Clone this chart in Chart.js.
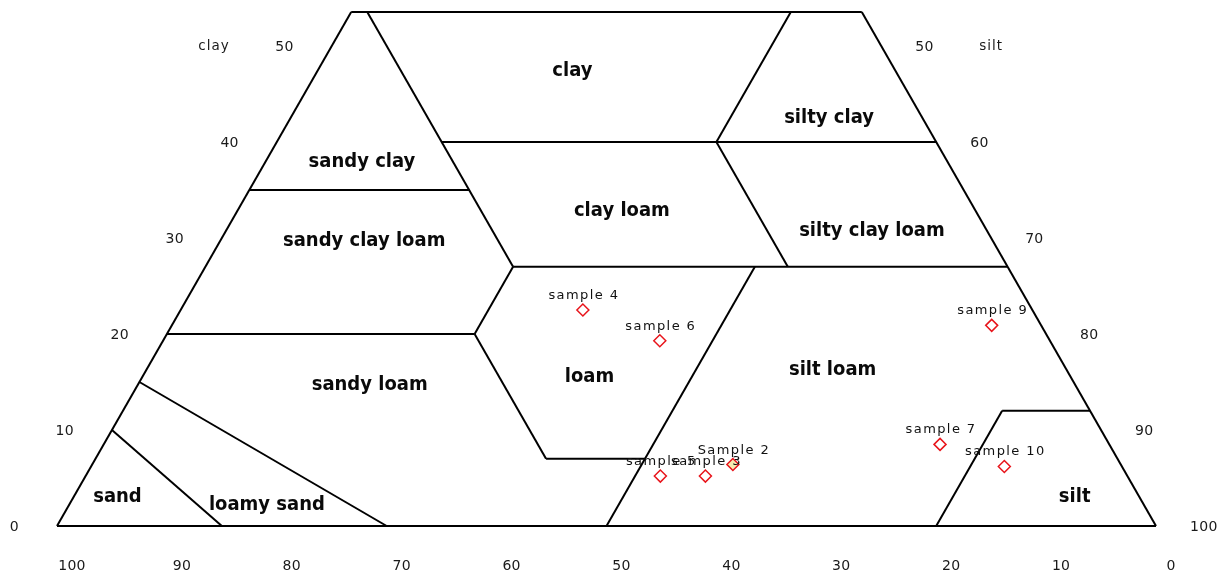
<!DOCTYPE html>
<html>
<head>
<meta charset="utf-8">
<script src="https://cdn.jsdelivr.net/npm/chart.js@4"></script>
<style>
  html, body { margin: 0; padding: 0; background: #ffffff; }
  canvas { display: block; }
</style>
</head>
<body>
<canvas id="soil" width="1224" height="574"></canvas>
<script>
// Highest clay percentage shown on the truncated texture triangle
const clayTop = 53.54;

// USDA texture class boundaries: each segment is [[sand, clay], [sand, clay]]
const outline = [
  [[100, 0], [100 - clayTop, clayTop]],
  [[100 - clayTop, clayTop], [0, clayTop]],
  [[0, clayTop], [0, 0]],
  [[0, 0], [100, 0]]
];
const classLines = [
  [[90, 10], [85, 0]],
  [[85, 15], [70, 0]],
  [[80, 20], [52, 20]],
  [[52, 20], [45, 27]],
  [[52, 20], [52, 7]],
  [[52, 7], [43, 7]],
  [[50, 0], [23, 27]],
  [[65, 35], [45, 35]],
  [[45, 27], [45, clayTop]],
  [[45, 27], [0, 27]],
  [[45, 40], [0, 40]],
  [[20, 27], [20, 40]],
  [[20, 40], [60 - clayTop, clayTop]],
  [[20, 0], [8, 12]],
  [[8, 12], [0, 12]]
];

// Texture class names and where each is written (sand %, clay %)
const classNames = ['clay', 'silty clay', 'sandy clay', 'clay loam', 'sandy clay loam',
  'silty clay loam', 'sandy loam', 'loam', 'silt loam', 'sand', 'loamy sand', 'silt'];
const classSand = [29.4, 8.5, 53.3, 32.2, 57.2, 10.5, 64.2, 43.8, 21.3, 93.0, 79.8, 5.9];
const classClay = [47.4, 42.5, 37.9, 32.8, 29.7, 30.7, 14.7, 15.5, 16.25, 3.0, 2.2, 3.0];

// Samples (sand %, clay %)
const sampleNames = ['sample 4', 'sample 6', 'sample 9', 'sample 7', 'sample 10', 'sample 5', 'sample 3', 'Sample 2'];
const sampleSand = [40.9, 35.5, 4.5, 15.4, 10.7, 42.5, 38.4, 35.3];
const sampleClay = [22.5, 19.3, 20.9, 8.5, 6.2, 5.2, 5.2, 6.4];

// Axis tick labels
const clayTicks = [0, 10, 20, 30, 40, 50];
const siltTicks = [50, 60, 70, 80, 90, 100];
const sandTicks = [100, 90, 80, 70, 60, 50, 40, 30, 20, 10, 0];

// Ternary (sand, clay) -> plane coordinates
function toXY(sand, clay) {
  return { x: 100 - sand - clay / 2, y: clay };
}

const lineStyle = {
  type: 'scatter', showLine: true, borderColor: '#000000', borderWidth: 2,
  pointRadius: 0, pointHoverRadius: 0, clip: false, fill: false
};

const datasets = [];
outline.concat(classLines).forEach(seg => {
  datasets.push(Object.assign({}, lineStyle, {
    data: seg.map(p => toXY(p[0], p[1]))
  }));
});

datasets.push({
  type: 'scatter',
  data: sampleSand.map((s, i) => toXY(s, sampleClay[i])),
  pointStyle: 'rectRot',
  pointRadius: 6,
  pointHoverRadius: 6,
  pointBorderWidth: 1.5,
  pointBorderColor: '#e8141b',
  pointBackgroundColor: sampleNames.map(n => n === 'Sample 2' ? '#f6ebb0' : '#ffffff'),
  clip: false
});

const textPlugin = {
  id: 'ternaryText',
  afterDatasetsDraw(chart) {
    const ctx = chart.ctx;
    const xs = chart.scales.x, ys = chart.scales.y;
    const px = (s, c) => xs.getPixelForValue(toXY(s, c).x);
    const py = (c) => ys.getPixelForValue(c);
    ctx.save();

    // class names (narrow bold face)
    ctx.fillStyle = '#0a0a0a';
    ctx.font = 'bold 20px "DejaVu Sans"';
    ctx.textAlign = 'center';
    ctx.textBaseline = 'middle';
    classNames.forEach((n, i) => {
      ctx.save();
      ctx.translate(px(classSand[i], classClay[i]), py(classClay[i]));
      ctx.scale(0.9, 1);
      ctx.fillText(n, 0, 0);
      ctx.restore();
    });

    // sample labels
    ctx.fillStyle = '#111111';
    ctx.font = '13px "DejaVu Sans"';
    ctx.letterSpacing = '1.4px';
    ctx.textBaseline = 'alphabetic';
    sampleNames.forEach((n, i) => {
      ctx.fillText(n, px(sampleSand[i], sampleClay[i]) + 1, py(sampleClay[i]) - 11);
    });

    // tick labels
    ctx.fillStyle = '#1a1a1a';
    ctx.font = '14px "DejaVu Sans"';
    ctx.letterSpacing = '0.3px';
    ctx.textBaseline = 'middle';
    ctx.textAlign = 'right';
    clayTicks.forEach(c => {
      ctx.fillText(String(c), px(100 - c, c) - 38, py(c) + 1);
    });
    ctx.textAlign = 'left';
    siltTicks.forEach(s => {
      const c = 100 - s;
      ctx.fillText(String(s), px(0, c) + 34, py(c) + 1);
    });
    ctx.textAlign = 'center';
    sandTicks.forEach(s => {
      ctx.fillText(String(s), px(s, 0) + 15, py(0) + 40);
    });

    // corner names
    ctx.font = '13.5px "DejaVu Sans"';
    ctx.letterSpacing = '1px';
    ctx.textAlign = 'right';
    ctx.fillText('clay', px(50, 50) - 102, py(50) + 1);
    ctx.textAlign = 'left';
    ctx.fillText('silt', px(0, 50) + 98, py(50) + 1);

    ctx.restore();
  }
};

new Chart(document.getElementById('soil'), {
  type: 'scatter',
  data: { datasets },
  options: {
    responsive: false,
    animation: false,
    events: [],
    layout: { padding: { left: 57, right: 68, top: 12, bottom: 48 } },
    scales: {
      x: { type: 'linear', min: 0, max: 100, display: false },
      y: { type: 'linear', min: 0, max: clayTop, display: false }
    },
    plugins: { legend: { display: false }, tooltip: { enabled: false } }
  },
  plugins: [textPlugin]
});
</script>
</body>
</html>
